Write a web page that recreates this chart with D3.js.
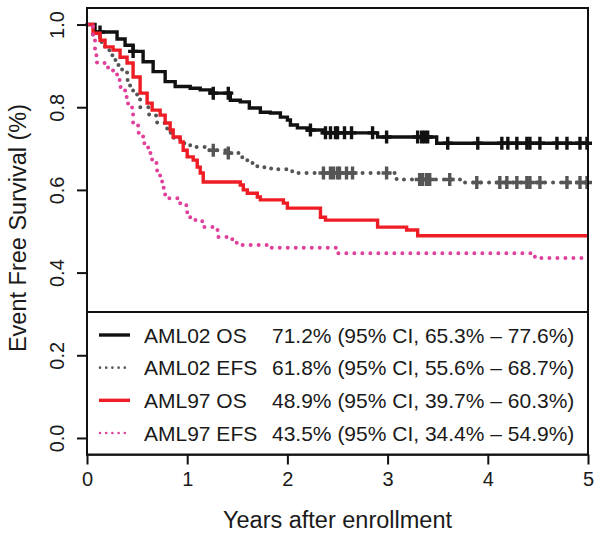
<!DOCTYPE html>
<html><head><meta charset="utf-8">
<script src="https://cdn.jsdelivr.net/npm/d3@7"></script>
<style>
body{margin:0;background:#fff}
text{font-family:"Liberation Sans",Arial,Helvetica,sans-serif;fill:#1a1a1a}
</style>
</head><body>
<svg id="chart" width="600" height="534"></svg>
<script>
// ---- data ----
const xTicks = [0, 1, 2, 3, 4, 5];
const yTicks = [0.0, 0.2, 0.4, 0.6, 0.8, 1.0];
const xTitle = "Years after enrollment";
const yTitle = "Event Free Survival (%)";

const seriesNames = ["AML02 OS", "AML02 EFS", "AML97 OS", "AML97 EFS"];
const seriesStats = [
  "71.2% (95% CI, 65.3% \u2013 77.6%)",
  "61.8% (95% CI, 55.6% \u2013 68.7%)",
  "48.9% (95% CI, 39.7% \u2013 60.3%)",
  "43.5% (95% CI, 34.4% \u2013 54.9%)"
];

const aml02OsTime = [0,0.08,0.30,0.38,0.46,0.56,0.66,0.78,0.88,1.03,1.13,1.23,1.43,1.53,1.62,1.73,1.83,1.93,2.00,2.03,2.10,2.20,2.36,2.90,3.49];
const aml02OsSurv = [1.0,0.982,0.965,0.95,0.935,0.91,0.886,0.862,0.85,0.846,0.842,0.834,0.817,0.813,0.798,0.788,0.786,0.776,0.769,0.757,0.750,0.745,0.738,0.728,0.713];
const aml02OsCensor = [0.13,0.46,1.26,1.41,2.23,2.38,2.43,2.48,2.50,2.57,2.64,2.85,2.99,3.30,3.34,3.37,3.40,3.60,3.90,4.14,4.20,4.29,4.39,4.42,4.52,4.69,4.79,4.92,4.99];

const aml02EfsTime = [0,0.06,0.13,0.18,0.23,0.26,0.30,0.35,0.40,0.43,0.46,0.50,0.53,0.62,0.70,0.80,0.86,0.93,1.03,1.20,1.41,1.53,1.60,1.70,1.80,1.90,2.00,2.10,3.09,3.75];
const aml02EfsSurv = [1.0,0.975,0.958,0.938,0.926,0.914,0.902,0.885,0.866,0.852,0.838,0.82,0.80,0.78,0.762,0.738,0.726,0.713,0.704,0.696,0.689,0.679,0.665,0.655,0.652,0.650,0.645,0.641,0.625,0.618];
const aml02EfsCensor = [1.26,1.41,2.36,2.43,2.46,2.50,2.52,2.59,2.65,2.99,3.32,3.35,3.39,3.42,3.62,3.89,4.12,4.19,4.29,4.39,4.42,4.52,4.79,4.92,4.99];

const aml97OsTime = [0,0.06,0.13,0.18,0.26,0.33,0.40,0.46,0.53,0.60,0.65,0.73,0.78,0.83,0.86,0.93,0.96,1.00,1.06,1.10,1.13,1.16,1.53,1.56,1.60,1.70,1.73,1.96,2.00,2.33,2.38,2.90,3.19,3.30];
const aml97OsSurv = [1.0,0.979,0.962,0.946,0.938,0.921,0.907,0.873,0.834,0.81,0.793,0.781,0.762,0.745,0.728,0.716,0.696,0.68,0.672,0.655,0.641,0.619,0.612,0.60,0.592,0.583,0.576,0.568,0.556,0.534,0.527,0.51,0.503,0.489];
const aml97OsCensor = [];

const aml97EfsTime = [0,0.06,0.08,0.10,0.21,0.26,0.30,0.33,0.38,0.41,0.45,0.46,0.51,0.56,0.61,0.65,0.70,0.73,0.75,0.78,0.93,1.00,1.03,1.15,1.26,1.31,1.45,1.53,1.83,2.50,4.47];
const aml97EfsSurv = [1.0,0.967,0.926,0.907,0.895,0.883,0.866,0.849,0.825,0.80,0.786,0.762,0.738,0.713,0.689,0.665,0.641,0.624,0.605,0.58,0.563,0.544,0.527,0.51,0.503,0.486,0.472,0.467,0.46,0.447,0.435];
const aml97EfsCensor = [];

const seriesColors = ["#111111", "#555555", "#ee1c25", "#e0409a"];
const seriesDotted = [false, true, false, true];

// ---- layout ----
const svg = d3.select("#chart");
const x = d3.scaleLinear().domain([0, 5]).range([87, 588]);
const y = d3.scaleLinear().domain([-0.04, 1.04]).range([454.5, 8]);

const series = [
  {t: aml02OsTime, s: aml02OsSurv, c: aml02OsCensor},
  {t: aml02EfsTime, s: aml02EfsSurv, c: aml02EfsCensor},
  {t: aml97OsTime, s: aml97OsSurv, c: aml97OsCensor},
  {t: aml97EfsTime, s: aml97EfsSurv, c: aml97EfsCensor}
];

const line = d3.line().x(d => x(d[0])).y(d => y(d[1])).curve(d3.curveStepAfter);

function survAt(ser, t) {
  let v = ser.s[0];
  for (let i = 0; i < ser.t.length; i++) if (ser.t[i] <= t) v = ser.s[i];
  return v;
}

series.forEach((ser, i) => {
  const pts = ser.t.map((t, k) => [t, ser.s[k]]);
  pts.push([5, ser.s[ser.s.length - 1]]);
  const p = svg.append("path").attr("d", line(pts))
    .attr("fill", "none").attr("stroke", seriesColors[i])
    .attr("stroke-width", seriesDotted[i] ? 4 : 3.4);
  if (seriesDotted[i]) p.attr("stroke-dasharray", "0 8").attr("stroke-linecap", "round");
  svg.append("g").selectAll("path").data(ser.c).join("path")
    .attr("d", t => {
      const cx = x(t), cy = y(survAt(ser, t));
      return `M${cx-5},${cy}H${cx+5}M${cx},${cy-6.5}V${cy+6.5}`;
    })
    .attr("stroke", seriesColors[i]).attr("stroke-width", 3.4).attr("fill", "none");
});

// plot box
svg.append("rect").attr("x", x(0)).attr("y", y(1.04))
  .attr("width", x(5) - x(0)).attr("height", y(-0.04) - y(1.04))
  .attr("fill", "none").attr("stroke", "#111").attr("stroke-width", 2);

// axes
const xAxis = d3.axisBottom(x).tickValues(xTicks).tickFormat(d3.format("d")).tickSize(10).tickPadding(7);
const gx = svg.append("g").attr("transform", `translate(0,${y(-0.04)})`).call(xAxis);
gx.select(".domain").attr("d", `M${x(0)},0H${x(5)}`).attr("stroke", "#111").attr("stroke-width", 2);
gx.selectAll(".tick line").attr("stroke", "#111").attr("stroke-width", 2);
gx.selectAll(".tick text").attr("font-size", 20).attr("fill", "#1a1a1a")
  .attr("font-family", "Liberation Sans, Arial, sans-serif");

const yAxis = d3.axisLeft(y).tickValues(yTicks).tickFormat(d3.format(".1f")).tickSize(10).tickPadding(0);
const gy = svg.append("g").attr("transform", `translate(${x(0)},0)`).call(yAxis);
gy.select(".domain").attr("d", `M0,${y(0)}V${y(1)}`).attr("stroke", "none");
gy.selectAll(".tick line").attr("stroke", "#111").attr("stroke-width", 2);
gy.selectAll(".tick text").attr("font-size", 20).attr("fill", "#1a1a1a")
  .attr("font-family", "Liberation Sans, Arial, sans-serif")
  .attr("x", 0).attr("dy", 0)
  .attr("transform", "translate(-23,0) rotate(-90)")
  .attr("text-anchor", "middle").attr("dominant-baseline", "auto");

// axis titles
svg.append("text").attr("x", (x(0) + x(5)) / 2).attr("y", 528)
  .attr("text-anchor", "middle").attr("font-size", 23.5).text(xTitle);
svg.append("text").attr("transform", `translate(26,228) rotate(-90)`)
  .attr("text-anchor", "middle").attr("font-size", 23.5).text(yTitle);

// legend
const legTop = 312;
svg.append("rect").attr("x", x(0)).attr("y", legTop)
  .attr("width", x(5) - x(0)).attr("height", y(-0.04) - legTop)
  .attr("fill", "#fff").attr("stroke", "#111").attr("stroke-width", 2);
const rowY = d3.scalePoint().domain(seriesNames).range([335, 433]);
const lg = svg.append("g");
seriesNames.forEach((nm, i) => {
  const cy = rowY(nm);
  const l = lg.append("line").attr("x1", 99).attr("x2", 130).attr("y1", cy).attr("y2", cy)
    .attr("stroke", seriesColors[i]).attr("stroke-width", seriesDotted[i] ? 2.6 : 3.4);
  if (seriesDotted[i]) l.attr("stroke-dasharray", "0 6.2").attr("stroke-linecap", "round").attr("x1", 100);
  lg.append("text").attr("x", 144).attr("y", cy).attr("dy", "0.36em").attr("font-size", 21).text(nm);
  lg.append("text").attr("x", 272).attr("y", cy).attr("dy", "0.36em").attr("font-size", 21).text(seriesStats[i]);
});
</script>
</body></html>
